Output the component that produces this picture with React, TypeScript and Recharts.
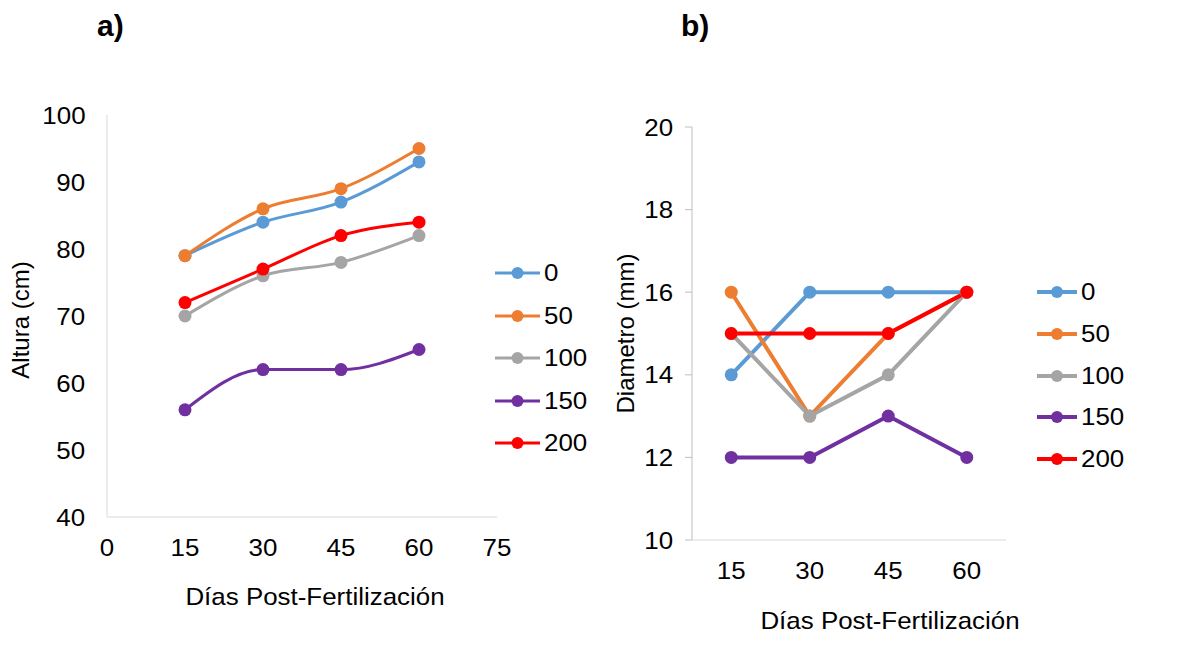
import React from 'react'
import { LineChart, Line, XAxis, YAxis, Label } from 'recharts'

// shared
const doses = ['0', '50', '100', '150', '200']
const colors = ['#5B9BD5', '#ED7D31', '#A5A5A5', '#7030A0', '#FF0000']
const days = [15, 30, 45, 60]

// a) Altura (cm)
const altura0 = [79, 84, 87, 93]
const altura50 = [79, 86, 89, 95]
const altura100 = [70, 76, 78, 82]
const altura150 = [56, 62, 62, 65]
const altura200 = [72, 77, 82, 84]
const alturaTicksX = [0, 15, 30, 45, 60, 75]
const alturaTicksY = [40, 50, 60, 70, 80, 90, 100]

// b) Diametro (mm)
const diam0 = [14, 16, 16, 16]
const diam50 = [16, 13, 15, 16]
const diam100 = [15, 13, 14, 16]
const diam150 = [12, 12, 13, 12]
const diam200 = [15, 15, 15, 16]
const diamTicksY = [10, 12, 14, 16, 18, 20]

const build = (series: number[][]) =>
    days.map((d, i) => {
        const row: Record<string, number | string> = { day: d, cat: String(d) }
        series.forEach((s, k) => { row['s' + k] = s[i] })
        return row
    })

const alturaData = build([altura0, altura50, altura100, altura150, altura200])
const diamData = build([diam0, diam50, diam100, diam150, diam200])

const FONT = '"Liberation Sans", Arial, sans-serif'
const FS = 24
const tickStyle = { fontSize: FS, fill: '#000', fontFamily: FONT }
const axisColor = '#D9D9D9'

const css = `
.stretch, .recharts-cartesian-axis-tick-value { transform-box: fill-box; transform-origin: center; transform: scaleX(1.08); }
`

interface LegendProps {
    left: number
    top: number
    gap: number
    lineW: number
    strokeW: number
}

const SideLegend: React.FC<LegendProps> = ({ left, top, gap, lineW, strokeW }) => (
    <div style={{ position: 'absolute', left, top }}>
        {doses.map((d, i) => (
            <div key={d} style={{ position: 'absolute', top: i * gap - 15, left: 0, height: 30, display: 'flex', alignItems: 'center', whiteSpace: 'nowrap' }}>
                <svg width={lineW} height={14}>
                    <line x1={0} y1={7} x2={lineW} y2={7} stroke={colors[i]} strokeWidth={strokeW} />
                    <circle cx={lineW / 2} cy={7} r={6} fill={colors[i]} />
                </svg>
                <span style={{ fontFamily: FONT, fontSize: FS, marginLeft: 4, display: 'inline-block', transform: 'scaleX(1.08)', transformOrigin: 'left center' }}>{d}</span>
            </div>
        ))}
    </div>
)

const Title: React.FC<{ text: string; left: number }> = ({ text, left }) => (
    <div style={{ position: 'absolute', left, top: 9, fontFamily: FONT, fontWeight: 'bold', fontSize: 30 }}>{text}</div>
)

const App: React.FC = () => {
    return (
        <div style={{ position: 'absolute', left: 0, top: 0, width: 1193, height: 648, background: '#fff' }}>
            <style>{css}</style>
            <Title text="a)" left={97} />
            <Title text="b)" left={681} />

            <div style={{ position: 'absolute', left: 0, top: 0 }}>
                <LineChart width={600} height={648} data={alturaData} margin={{ top: 115, right: 103, bottom: 101, left: 0 }}>
                    <XAxis
                        dataKey="day"
                        type="number"
                        domain={[0, 75]}
                        ticks={alturaTicksX}
                        tickLine={false}
                        tickSize={0}
                        tickMargin={22}
                        height={30}
                        stroke={axisColor}
                        tick={tickStyle}
                    >
                        <Label value="Días Post-Fertilización" position="bottom" offset={41} dx={13} className="stretch"
                            style={{ fontSize: FS, fill: '#000', fontFamily: FONT }} />
                    </XAxis>
                    <YAxis
                        type="number"
                        domain={[40, 100]}
                        ticks={alturaTicksY}
                        tickLine={false}
                        tickSize={0}
                        tickMargin={23}
                        width={107}
                        stroke={axisColor}
                        tick={tickStyle}
                    >
                        <Label value="Altura (cm)" angle={-90} position="center" dx={-33} dy={4}
                            style={{ fontSize: FS, fill: '#000', fontFamily: FONT, textAnchor: 'middle' }} />
                    </YAxis>
                    {doses.map((d, i) => (
                        <Line
                            key={d}
                            dataKey={'s' + i}
                            name={d}
                            type="monotone"
                            stroke={colors[i]}
                            strokeWidth={3}
                            dot={{ r: 6.5, fill: colors[i], stroke: colors[i], strokeWidth: 0 }}
                            isAnimationActive={false}
                        />
                    ))}
                </LineChart>
            </div>
            <SideLegend left={495} top={273} gap={42.5} lineW={45} strokeW={3} />

            <div style={{ position: 'absolute', left: 600, top: 0 }}>
                <LineChart width={593} height={648} data={diamData} margin={{ top: 127, right: 187, bottom: 78, left: 0 }}>
                    <XAxis
                        dataKey="cat"
                        type="category"
                        scale="band"
                        tickLine={false}
                        tickSize={0}
                        tickMargin={22}
                        height={30}
                        stroke={axisColor}
                        tick={tickStyle}
                    >
                        <Label value="Días Post-Fertilización" position="bottom" offset={42} dx={41} className="stretch"
                            style={{ fontSize: FS, fill: '#000', fontFamily: FONT }} />
                    </XAxis>
                    <YAxis
                        type="number"
                        domain={[10, 20]}
                        ticks={diamTicksY}
                        tickSize={7}
                        tickMargin={13}
                        width={92}
                        stroke="#BFBFBF"
                        tick={tickStyle}
                    >
                        <Label value="Diametro (mm)" angle={-90} position="center" dx={-21} dy={0}
                            style={{ fontSize: FS, fill: '#000', fontFamily: FONT, textAnchor: 'middle' }} />
                    </YAxis>
                    {doses.map((d, i) => (
                        <Line
                            key={d}
                            dataKey={'s' + i}
                            name={d}
                            type="linear"
                            stroke={colors[i]}
                            strokeWidth={4}
                            dot={{ r: 6.5, fill: colors[i], stroke: colors[i], strokeWidth: 0 }}
                            isAnimationActive={false}
                        />
                    ))}
                </LineChart>
            </div>
            <SideLegend left={1037} top={292} gap={41.8} lineW={40} strokeW={4} />
        </div>
    )
}

export default App
